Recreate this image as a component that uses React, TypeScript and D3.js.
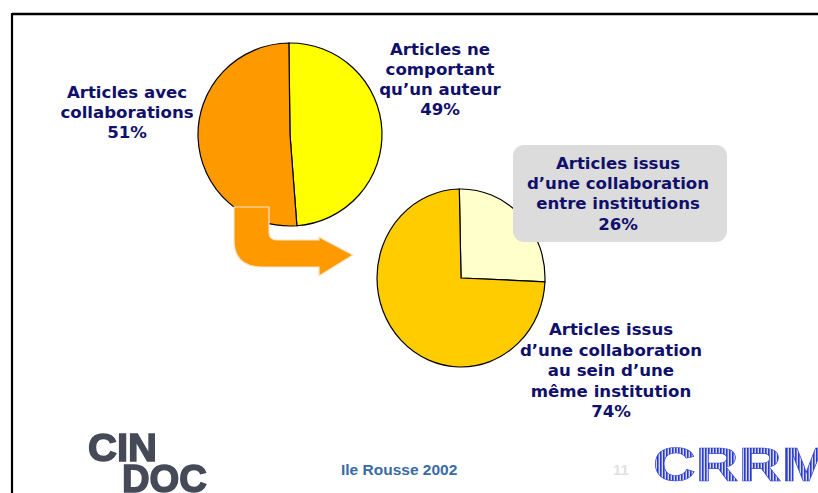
import React from "react";
import * as d3 from "d3";

// ---- Data ----
const pie1Labels = ["Articles ne comportant qu'un auteur", "Articles avec collaborations"];
const pie1Values = [49, 51];
const pie1Colors = ["#FFFF00", "#FF9900"];

const pie2Labels = ["Articles issus d'une collaboration entre institutions", "Articles issus d'une collaboration au sein d'une même institution"];
const pie2Values = [26, 74];
const pie2Colors = ["#FFFFCC", "#FFCC00"];

const labelAvec = ["Articles avec", "collaborations", "51%"];
const labelNe = ["Articles ne", "comportant", "qu\u2019un auteur", "49%"];
const labelEntre = ["Articles issus", "d\u2019une collaboration", "entre institutions", "26%"];
const labelSein = ["Articles issus", "d\u2019une collaboration", "au sein d\u2019une", "même institution", "74%"];

const footerText = "Ile Rousse 2002";
const pageNumber = "11";

const W = 818;
const H = 493;
const NAVY = "#10106a";
const FONT = "'DejaVu Sans', Verdana, sans-serif";

function Pie({ values, colors, cx, cy, rx, ry, start }: any) {
  const pie = d3.pie<number>().sort(null).startAngle(start).endAngle(start + 2 * Math.PI);
  const arc = d3.arc<d3.PieArcDatum<number>>().innerRadius(0).outerRadius(rx);
  const arcs = pie(values);
  return (
    <g transform={`translate(${cx},${cy}) scale(1,${ry / rx})`}>
      {arcs.map((a, i) => (
        <path key={i} d={arc(a) || ""} fill={colors[i]} stroke="#000" strokeWidth={1.2} vectorEffect="non-scaling-stroke" />
      ))}
    </g>
  );
}

function Label({ lines, x, y0, step }: any) {
  return (
    <text x={x} fontFamily={FONT} fontWeight="bold" fontSize={16.6} fill={NAVY} textAnchor="middle">
      {lines.map((l: string, i: number) => (
        <tspan key={i} x={x} y={y0 + i * step}>{l}</tspan>
      ))}
    </text>
  );
}

export default function App() {
  const arrowPath =
    "M 234 207 L 269 207 L 269 232 Q 269 240 277 240 L 319 240 L 319 237 L 353 255 L 319 276 L 319 267 L 262 267 Q 234 267 234 240 Z";
  return (
    <svg width={W} height={H} style={{ position: "absolute", left: 0, top: 0, background: "#fff" }}>
      <defs>
        <pattern id="stripes" width="3" height="4" patternUnits="userSpaceOnUse">
          <rect width="3" height="4" fill="#d4d8f6" />
          <rect width="1.6" height="4" fill="#2a3ad0" />
        </pattern>
        <filter id="blur1"><feGaussianBlur stdDeviation="0.6" /></filter>
      </defs>
      <rect x={0} y={0} width={W} height={H} fill="#fff" />
      {/* slide frame */}
      <line x1={12} y1={14} x2={W} y2={14} stroke="#000" strokeWidth={2.6} />
      <line x1={12} y1={13} x2={12} y2={H} stroke="#000" strokeWidth={2.2} />

      <Pie values={pie1Values} colors={pie1Colors} cx={290} cy={134.5} rx={92} ry={91.5} start={-0.012} />
      <Pie values={pie2Values} colors={pie2Colors} cx={461} cy={278} rx={84} ry={89} start={-0.02} />

      <path d={arrowPath} fill="#FF9900" stroke="#f4e6d0" strokeWidth={1.2} />

      <Label lines={labelAvec} x={127} y0={98} step={20} />
      <Label lines={labelNe} x={440} y0={55} step={20} />

      <rect x={513} y={145} width={214} height={97} rx={11} fill="#dcdcdc" />
      <Label lines={labelEntre} x={618} y0={169} step={20.2} />
      <Label lines={labelSein} x={611} y0={335} step={20.5} />

      {/* footer */}
      <text x={341} y={475} fontFamily="'Liberation Sans', Arial, sans-serif" fontWeight="bold" fontSize={15.5} fill="#3a6aa4">{footerText}</text>
      <text x={613} y={475} fontFamily="'Liberation Sans', Arial, sans-serif" fontWeight="bold" fontSize={15} fill="#e2e2e2">{pageNumber}</text>

      {/* CINDOC logo */}
      <g filter="url(#blur1)" fontFamily="'Liberation Sans', Arial, sans-serif" fontWeight="bold" fill="#454a58" stroke="#454a58" strokeWidth={1.5}>
        <text x={88} y={461} fontSize={39} textLength={69} lengthAdjust="spacingAndGlyphs">CIN</text>
        <text x={122} y={492} fontSize={39} textLength={85} lengthAdjust="spacingAndGlyphs">DOC</text>
      </g>
      {/* CRRM logo */}
      <text x={653} y={481} fontFamily="'Liberation Sans', Arial, sans-serif" fontWeight="bold" fontSize={48} fill="url(#stripes)" stroke="#3344cc" strokeWidth={0.6} textLength={178} lengthAdjust="spacingAndGlyphs">CRRM</text>
    </svg>
  );
}
